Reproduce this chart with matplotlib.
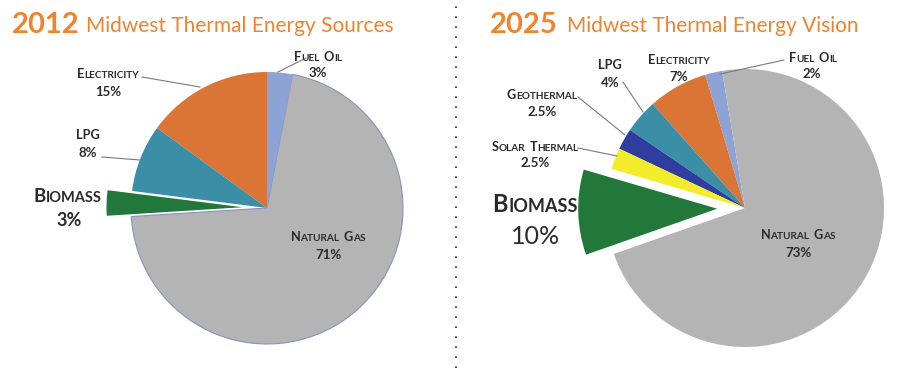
import matplotlib
matplotlib.use('Agg')
import matplotlib.pyplot as plt
from matplotlib.offsetbox import TextArea, HPacker, AnnotationBbox

plt.rcParams['font.family'] = ['Lato', 'DejaVu Sans']

# %% data
left_year = '2012'
left_title = 'Midwest Thermal Energy Sources'
left_labels = ['Electricity', 'LPG', 'Biomass', 'Natural Gas', 'Fuel Oil']
left_values = [15, 8, 3, 71, 3]

right_year = '2025'
right_title = 'Midwest Thermal Energy Vision'
right_labels = ['Fuel Oil', 'Electricity', 'LPG', 'Geothermal', 'Solar Thermal', 'Biomass', 'Natural Gas']
right_values = [2, 7, 4, 2.5, 2.5, 10, 73]

colors = {
    'Natural Gas': '#b4b4b4',
    'Fuel Oil': '#8da2d5',
    'Electricity': '#da7535',
    'LPG': '#3a8ea6',
    'Biomass': '#22773a',
    'Geothermal': '#2f3e9e',
    'Solar Thermal': '#f3ec2b',
}

W, H = 906, 368
ORANGE = '#f0842c'
DARK = '#2a2a2a'


def Y(y):
    # image row -> data y
    return H - y


def smallcaps(ax, text, x, y, big, small, color=DARK):
    words = []
    for w in text.split(' '):
        if w.isupper():
            parts = [TextArea(w, textprops=dict(size=big, weight='bold', color=color))]
        else:
            parts = [TextArea(w[0].upper(), textprops=dict(size=big, weight='bold', color=color))]
            if len(w) > 1:
                parts.append(TextArea(w[1:].upper(), textprops=dict(size=small, weight='bold', color=color)))
        words.append(HPacker(children=parts, align='baseline', pad=0, sep=0))
    box = HPacker(children=words, align='baseline', pad=0, sep=big * 0.35)
    ab = AnnotationBbox(box, (x, Y(y)), frameon=False, box_alignment=(0.5, 0.5), pad=0)
    ax.add_artist(ab)


fig = plt.figure(figsize=(W / 100, H / 100), dpi=100)
ax = fig.add_axes([0, 0, 1, 1])

# %% pies (explode is in data units here since radius != 1)
lr, rr = 136, 139
lw, _ = ax.pie(left_values, colors=[colors[c] for c in left_labels],
               explode=[0.18 * lr if c == 'Biomass' else 0 for c in left_labels],
               startangle=90, center=(267, Y(208)), radius=lr, frame=True,
               wedgeprops=dict(linewidth=0))
lw[left_labels.index('Natural Gas')].set_edgecolor('#8c90bf')
lw[left_labels.index('Natural Gas')].set_linewidth(0.8)

ax.pie(right_values, colors=[colors[c] for c in right_labels],
       explode=[0.2 * rr if c == 'Biomass' else 0 for c in right_labels],
       startangle=99.5, center=(745, Y(208)), radius=rr, frame=True,
       wedgeprops=dict(linewidth=0))

ax.set_xlim(0, W)
ax.set_ylim(0, H)
ax.set_aspect('auto')
ax.axis('off')

# divider
ax.plot([456, 456], [0, H], color='#222222', linewidth=1.2, linestyle=(0, (1, 5)))

# %% titles
ax.text(12, Y(33), left_year, color=ORANGE, fontsize=21, weight='bold', va='baseline')
ax.text(86, Y(32), left_title, color=ORANGE, fontsize=15, va='baseline')
ax.text(490, Y(33), right_year, color=ORANGE, fontsize=21, weight='bold', va='baseline')
ax.text(567, Y(32), right_title, color=ORANGE, fontsize=15, va='baseline')

# %% labels
left_pos = {
    'Fuel Oil': ((318, 57), (318, 73)),
    'Electricity': ((108, 74), (108, 92)),
    'LPG': ((88, 135), (88, 153)),
    'Biomass': ((68, 196), (69, 220)),
    'Natural Gas': ((328, 237), (328, 255)),
}
right_pos = {
    'Fuel Oil': ((813, 58), (812, 74)),
    'Electricity': ((679, 60), (679, 77)),
    'LPG': ((610, 65), (610, 83)),
    'Geothermal': ((542, 95), (542, 112)),
    'Solar Thermal': ((535, 147), (535, 163)),
    'Biomass': ((535, 205), (536, 237)),
    'Natural Gas': ((798, 235), (798, 253)),
}

for labels, values, pos in [(left_labels, left_values, left_pos), (right_labels, right_values, right_pos)]:
    for c, v in zip(labels, values):
        (nx, ny), (px, py) = pos[c]
        if c == 'Biomass':
            big = pos is right_pos
            smallcaps(ax, c, nx, ny, 17 if big else 13.5, 13 if big else 10.5)
            ax.text(px, Y(py), f'{v:g}%', ha='center', va='center', color=DARK,
                    fontsize=18 if big else 13, weight='bold' if not big else 'normal')
        else:
            smallcaps(ax, c, nx, ny, 9.2, 7.2)
            ax.text(px, Y(py), f'{v:g}%', ha='center', va='center', color=DARK,
                    fontsize=9.5, weight='bold')

# leader lines
leaders = [
    [(278, 72), (306, 58)],
    [(142, 77), (200, 87)],
    [(102, 157), (140, 160)],
    [(720, 74), (784, 60)],
    [(623, 82), (643, 112)],
    [(578, 97), (625, 135)],
    [(578, 148), (617, 156)],
]
for seg in leaders:
    ax.plot([p[0] for p in seg], [Y(p[1]) for p in seg], color='#7a7a7a', linewidth=0.8)

fig.savefig('out.png', dpi=100)
